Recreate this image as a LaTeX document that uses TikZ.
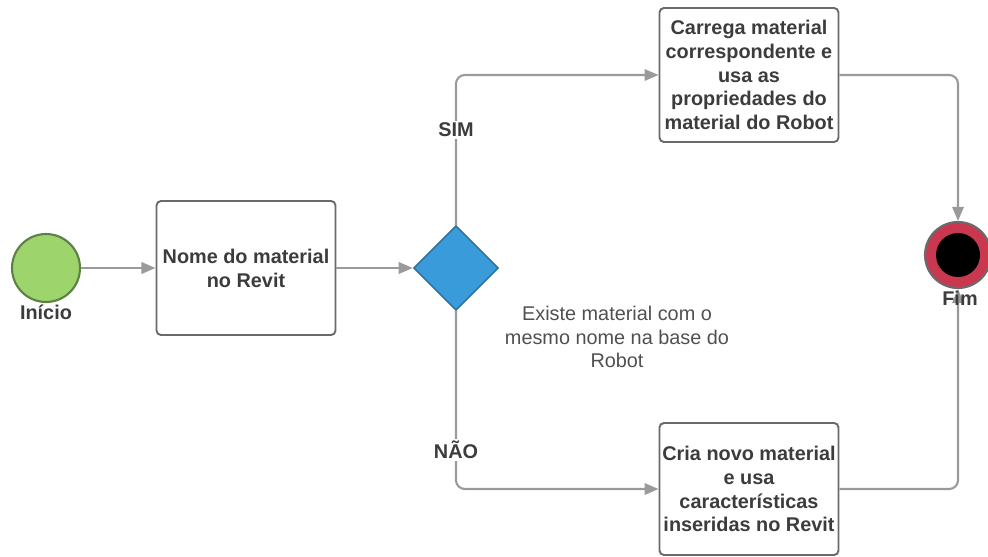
\documentclass[tikz,border=0pt]{standalone}
\usepackage{fontspec}
\setmainfont{Liberation Sans}
\usetikzlibrary{arrows.meta,shapes.geometric}

\definecolor{linha}{HTML}{9A9A9A}
\definecolor{borda}{HTML}{6A6A6A}
\definecolor{texto}{HTML}{3C3C3C}
\definecolor{verde}{HTML}{9DD46B}
\definecolor{verdeesc}{HTML}{5E7F45}
\definecolor{azul}{HTML}{3A9BDA}
\definecolor{azulesc}{HTML}{2B6E9C}
\definecolor{vermelho}{HTML}{C9384F}

\begin{document}
\begin{tikzpicture}[x=0.02cm,y=0.02cm,>={Triangle[length=8pt,width=6.5pt]},
  caixa/.style={draw=borda,line width=1.1pt,rounded corners=2.5pt,fill=white,
    minimum width=3.58cm,minimum height=2.68cm,align=center,inner sep=1pt,
    text=texto,font=\bfseries\fontsize{11.3}{13.6}\selectfont},
  rotulo/.style={text=texto,font=\bfseries\fontsize{11.3}{13.6}\selectfont,inner sep=1pt},
  seta/.style={->,draw=linha,line width=1.2pt,rounded corners=5pt}]

\useasboundingbox (0,0) rectangle (988,556);

% eventos de inicio e fim
\node[circle,draw=verdeesc,line width=1.2pt,fill=verde,minimum size=1.36cm,inner sep=0]
  (ini) at (46,288) {};
\node[rotulo] (iniLabel) at (46,244) {Início};

\node[circle,draw=borda,line width=1.2pt,fill=vermelho,minimum size=1.32cm,inner sep=0]
  (fim) at (958,301) {};
\fill[black] (fim.center) circle[radius=0.44cm];

% tarefas
\node[caixa] (nome) at (246,288) {Nome do material\\no Revit};
\node[caixa] (carrega) at (749,481) {Carrega material\\correspondente e\\usa as\\propriedades do\\material do Robot};
\node[caixa,minimum height=2.64cm] (cria) at (749,67) {Cria novo material\\e usa\\características\\inseridas no Revit};

% decisao
\node[diamond,draw=azulesc,line width=0.8pt,fill=azul,minimum size=1.7cm,inner sep=0]
  (existe) at (456,288) {};
\node[align=center,text=texto!90,font=\fontsize{11.3}{13.6}\selectfont]
  (pergunta) at (617,219) {Existe material com o\\mesmo nome na base do\\Robot};

% ligacoes
\draw[seta] (ini) -- (nome);
\draw[seta] (nome) -- (existe);
\draw[seta] (existe.north) |- (carrega.west);
\draw[seta] (existe.south) |- (cria.west);
\draw[seta] (carrega.east) -| (fim.north);
\draw[seta] (cria.east) -| (fim.south);

\node[rotulo,fill=white] (sim) at (456,426) {SIM};
\node[rotulo,fill=white] (nao) at (456,106) {NÃO};
\node[rotulo] (fimLabel) at (960,258) {Fim};

\end{tikzpicture}
\end{document}
